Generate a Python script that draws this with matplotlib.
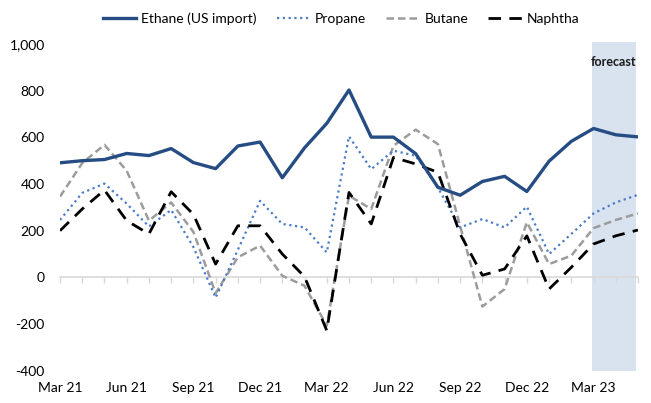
import numpy as np
import matplotlib
matplotlib.use("Agg")
import matplotlib.pyplot as plt

plt.rcParams['font.family'] = ['Lato', 'DejaVu Sans']

months = ['Mar 21', 'Apr 21', 'May 21', 'Jun 21', 'Jul 21', 'Aug 21', 'Sep 21', 'Oct 21', 'Nov 21',
          'Dec 21', 'Jan 22', 'Feb 22', 'Mar 22', 'Apr 22', 'May 22', 'Jun 22', 'Jul 22', 'Aug 22',
          'Sep 22', 'Oct 22', 'Nov 22', 'Dec 22', 'Jan 23', 'Feb 23', 'Mar 23', 'Apr 23', 'May 23']
ethane = [491, 500, 505, 531, 522, 552, 492, 466, 563, 580, 427, 555, 660, 803, 601, 601, 530,
          386, 352, 411, 433, 368, 498, 583, 638, 611, 602]
propane = [246, 362, 402, 316, 218, 289, 130, -87, 118, 328, 229, 214, 107, 604, 464, 543, 521,
           385, 214, 250, 214, 303, 100, 186, 274, 321, 354]
butane = [346, 490, 568, 457, 243, 321, 195, -68, 86, 136, 7, -36, -207, 350, 293, 564, 633,
          571, 220, -125, -50, 236, 57, 93, 211, 246, 274]
naphtha = [200, 293, 374, 243, 186, 367, 270, 57, 221, 221, 100, 3, -228, 364, 229, 514, 486,
           450, 186, 9, 36, 178, -50, 43, 143, 178, 203]
forecast_start, forecast_end = 'Mar 23', 'May 23'
label_months = months[::3]

x = np.arange(len(months))

fig = plt.figure(figsize=(6.51, 4.03), dpi=100)
ax = fig.add_axes([60/651, 32.3/403, 578/651, 329/403])

i0 = months.index(forecast_start)
i1 = months.index(forecast_end)
ax.axvspan(i0 - 0.07, i1 - 0.1, color='#D9E2EF', zorder=0, lw=0)
ax.text((i0 + i1) / 2 - 0.08, 925, 'forecast', ha='center', va='center', fontsize=9,
        fontweight='bold', color='#1a1a1a')

ax.plot(x, ethane, color='#264D83', lw=2.4, label='Ethane (US import)', zorder=5)
ax.plot(x, propane, color='#4A7CC7', lw=1.6, ls=(0, (1, 1.6)), label='Propane', zorder=4)
ax.plot(x, butane, color='#9C9C9C', lw=1.8, ls=(0, (3, 1.6)), label='Butane', zorder=3)
ax.plot(x, naphtha, color='black', lw=2.0, ls=(0, (4.5, 3)), label='Naphtha', zorder=4)

ax.set_xlim(0, len(months) - 1)
ax.set_ylim(-400, 1010)
ax.set_yticks(range(-400, 1001, 200))
ax.set_yticklabels([f'{v:,}' for v in range(-400, 1001, 200)], fontsize=10)
ax.tick_params(axis='y', length=0, pad=11)

# zero axis with monthly tick marks
for s in ['top', 'right', 'left']:
    ax.spines[s].set_visible(False)
ax.spines['bottom'].set_position(('data', 0))
ax.spines['bottom'].set_color('#D9D9D9')
ax.spines['bottom'].set_linewidth(1.2)
ax.spines['bottom'].set_zorder(1)
ax.set_xticks(x)
ax.set_xticklabels([])
ax.tick_params(axis='x', length=4, width=1, color='#D9D9D9', direction='out')

sec = ax.secondary_xaxis('bottom')
sec.set_xticks([months.index(m) for m in label_months])
sec.set_xticklabels(label_months, fontsize=10)
sec.tick_params(length=0, pad=8)
sec.spines['bottom'].set_visible(False)

fig.legend(loc='upper center', bbox_to_anchor=(0.524, 1.0), ncol=4, frameon=False,
           fontsize=10, handlelength=2.4, columnspacing=1.45, handletextpad=0.35)

fig.savefig('out.png', dpi=100)
